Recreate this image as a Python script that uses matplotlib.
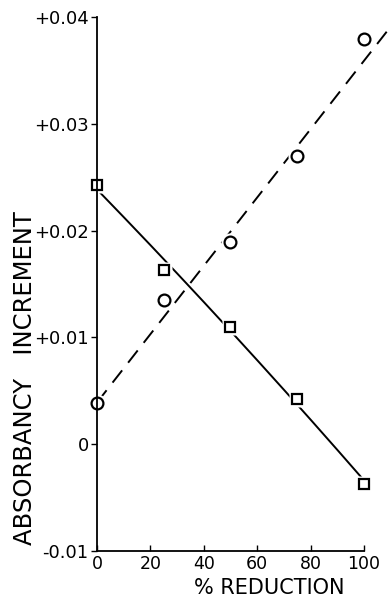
import matplotlib

matplotlib.use('Agg')
import matplotlib.pyplot as plt
import numpy as np

# data
reduction = [0, 25, 50, 75, 100]
squares = [0.0243, 0.0163, 0.0110, 0.0042, -0.0037]
circles = [0.0039, 0.0135, 0.0189, 0.0270, 0.0379]
dash_x = [0, 110]
dash_y = [0.0039, 0.0391]

xticks = [0, 20, 40, 60, 80, 100]
xticklabels = ['0', '20', '40', '60', '80', '100']
yticks = [-0.01, 0, 0.01, 0.02, 0.03, 0.04]
yticklabels = ['-0.01', '0', '+0.01', '+0.02', '+0.03', '+0.04']

plt.rcParams['font.family'] = ['DejaVu Sans']

fig = plt.figure(figsize=(3.9, 5.98), dpi=100)
ax = fig.add_axes([0.2487, 0.0786, 0.6846, 0.893])

# smooth solid curve through the squares
cx = np.linspace(0, 100, 200)
coef = np.polyfit(reduction, squares, 2)
ax.plot(cx, np.polyval(coef, cx), color='black', lw=1.4, clip_on=False)
ax.plot(dash_x, dash_y, color='black', lw=1.4, dashes=(8, 5), clip_on=False)

# white halos to leave gaps around markers
ax.plot(reduction, squares, 's', ms=11, mfc='white', mec='none', clip_on=False)
ax.plot(reduction, circles, 'o', ms=13, mfc='white', mec='none', clip_on=False)
ax.plot(reduction, squares, 's', ms=6.5, mfc='white', mec='black', mew=1.6, clip_on=False)
ax.plot(reduction, circles, 'o', ms=8.5, mfc='white', mec='black', mew=1.6, clip_on=False)

ax.set_xlim(0, 100)
ax.set_ylim(-0.01, 0.04)
ax.set_xticks(xticks)
ax.set_xticklabels(xticklabels)
ax.set_yticks(yticks)
ax.set_yticklabels(yticklabels)
ax.spines['top'].set_visible(False)
ax.spines['right'].set_visible(False)
ax.spines['left'].set_linewidth(1.3)
ax.spines['bottom'].set_linewidth(1.3)
ax.tick_params(axis='x', direction='in', length=4, width=1, labelsize=12.5, pad=3)
ax.tick_params(axis='y', direction='out', length=4, width=1, labelsize=13, pad=2)

fig.text(0.064, 0.368, 'ABSORBANCY   INCREMENT', rotation=90, fontsize=17.5,
         ha='center', va='center')
fig.text(0.69, 0.0, '% REDUCTION', fontsize=15, ha='center', va='bottom')

fig.savefig('out.png', dpi=100)
